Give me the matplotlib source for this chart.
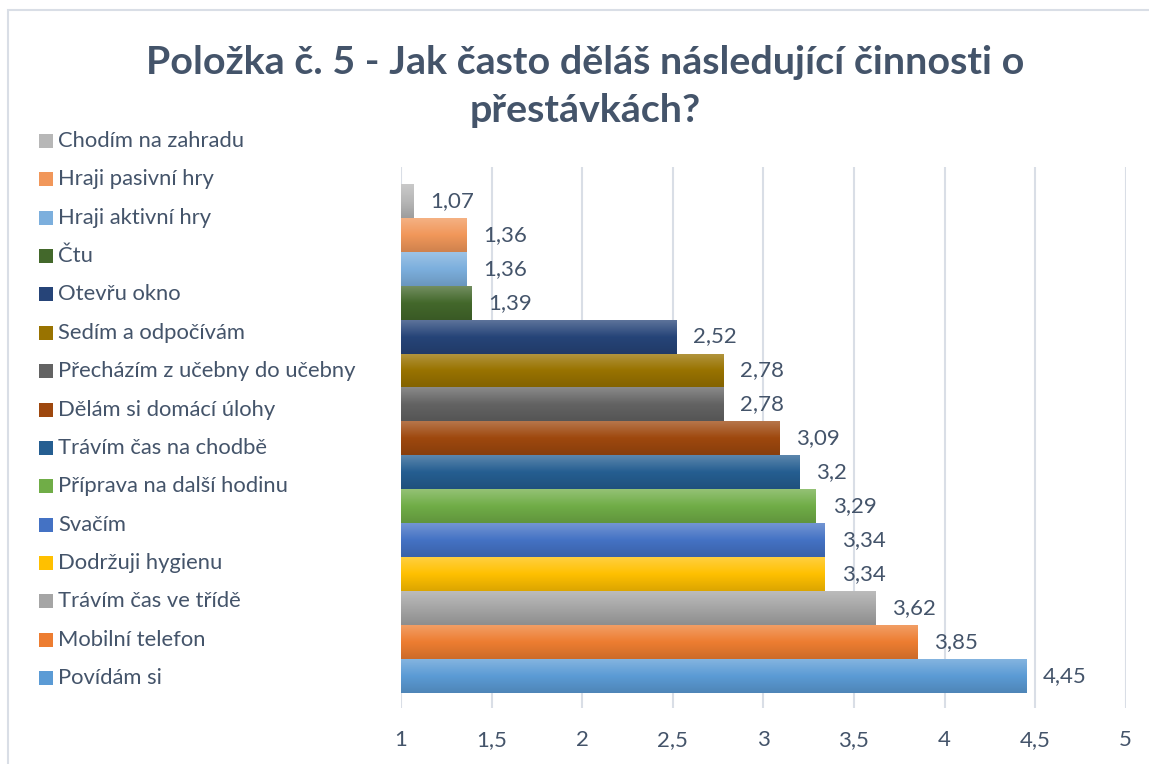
import numpy as np
import matplotlib
matplotlib.use("Agg")
import matplotlib.pyplot as plt
from matplotlib.patches import Rectangle
from matplotlib.colors import to_rgb

# ---- data (bottom to top, Excel series order) ----
labels = ["Povídám si", "Mobilní telefon", "Trávím čas ve třídě", "Dodržuji hygienu",
          "Svačím", "Příprava na další hodinu", "Trávím čas na chodbě",
          "Dělám si domácí úlohy", "Přecházím z učebny do učebny", "Sedím a odpočívám",
          "Otevřu okno", "Čtu", "Hraji aktivní hry", "Hraji pasivní hry", "Chodím na zahradu"]
values = [4.45, 3.85, 3.62, 3.34, 3.34, 3.29, 3.2, 3.09, 2.78, 2.78, 2.52, 1.39, 1.36, 1.36, 1.07]
colors = ["#5B9BD5", "#ED7D31", "#A5A5A5", "#FFC000", "#4472C4", "#70AD47", "#255E91",
          "#9E480E", "#636363", "#997300", "#264478", "#43682B", "#7CAFDD", "#F1975A", "#B7B7B7"]
xticks = [1, 1.5, 2, 2.5, 3, 3.5, 4, 4.5, 5]
title_lines = ["Položka č. 5 - Jak často děláš následující činnosti o", "přestávkách?"]

TXT = "#44546A"
GRID = "#D9DEE6"
FONT = ["Lato", "DejaVu Sans"]

W, H = 1149, 764
fig = plt.figure(figsize=(W / 100, H / 100), dpi=100)
fig.patch.set_facecolor("white")

def fx(px):
    return px / W

def fy(py):
    return 1 - py / H

# chart border
fig.add_artist(Rectangle((fx(8), fy(H + 20)), fx(W + 20), (H + 10) / H,
                         transform=fig.transFigure, fill=False, edgecolor=GRID, lw=1.5))

ax = fig.add_axes([fx(401), fy(708), fx(1125.7 - 401), (708 - 167) / H])
ax.set_facecolor("none")

def fmt(v):
    s = ("%.2f" % v).rstrip("0").rstrip(".")
    return s.replace(".", ",")

ypos = np.arange(len(values))
bars = ax.barh(ypos, np.array(values) - 1, left=1, height=1.0, color=colors, zorder=2)

for b, c in zip(bars, colors):
    base = np.array(to_rgb(c))
    top = base + (1 - base) * 0.25
    bot = base * 0.86
    n = 64
    t = np.linspace(0, 1, n)[:, None]
    grad = np.where(t < 0.5, top + (base - top) * (t / 0.5), base + (bot - base) * ((t - 0.5) / 0.5))
    img = grad[:, None, :].repeat(2, axis=1)
    x0, y0 = b.get_x(), b.get_y()
    im = ax.imshow(img, extent=(x0, x0 + b.get_width(), y0, y0 + b.get_height()),
                   origin="upper", aspect="auto", zorder=3, interpolation="bilinear")
    im.set_clip_path(b)

for v, y in zip(values, ypos):
    ax.annotate(fmt(v), (v, y), xytext=(12, 0), textcoords="offset points",
                va="center", ha="left", fontsize=16, color=TXT, family=FONT)

ax.set_xlim(1, 5)
ax.set_ylim(-0.951, 15.0)
ax.set_xticks(xticks)
ax.set_xticklabels([fmt(v) for v in xticks], fontsize=16, color=TXT, family=FONT)
ax.set_yticks([])
ax.tick_params(axis="x", length=0, pad=16)
ax.grid(axis="x", color=GRID, lw=1.5, zorder=0)
for s in ax.spines.values():
    s.set_visible(False)

# legend (top to bottom reversed order)
for k, (lab, c) in enumerate(zip(labels[::-1], colors[::-1])):
    yc = 141 + k * 38.36
    fig.add_artist(Rectangle((fx(39), fy(yc + 7)), fx(14), 14 / H, transform=fig.transFigure,
                             facecolor=c, edgecolor="none"))
    fig.text(fx(58), fy(yc), lab, va="center", ha="left", fontsize=15.8, color=TXT, family=FONT)

for line, yc in zip(title_lines, [62, 110]):
    fig.text(fx(585), fy(yc), line, ha="center", va="center", fontsize=28.4, fontweight="bold",
             color=TXT, family=FONT)

fig.savefig("out.png", dpi=100)
